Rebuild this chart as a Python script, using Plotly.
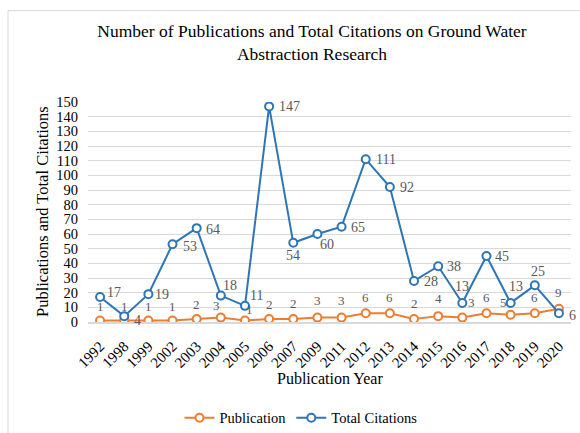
import plotly.graph_objects as go

# Publication years and the two series plotted against them
years = ["1992", "1998", "1999", "2002", "2003", "2004", "2005", "2006", "2007", "2009",
         "2011", "2012", "2013", "2014", "2015", "2016", "2017", "2018", "2019", "2020"]
publications = [1, 1, 1, 1, 2, 3, 1, 2, 2, 3, 3, 6, 6, 2, 4, 3, 6, 5, 6, 9]
citations = [17, 4, 19, 53, 64, 18, 11, 147, 54, 60, 65, 111, 92, 28, 38, 13, 45, 13, 25, 6]

y_ticks = list(range(0, 151, 10))

# Pixel offsets of each value label from its marker (right, down)
cit_label_shift = [(14, -5), (13, 4), (14, 0), (17, 2), (16, 1), (9, -10), (12, -10), (20, 0),
                   (0, 13), (10, 10), (16, 1), (20, 0), (17, 0), (17, 1), (16, 0), (0, -16),
                   (16, 0), (5, -16), (3, -14), (14, 2)]
pub_label_shift = [(0, -14), (0, -14), (0, -14), (0, -14), (0, -15), (-4, -12), (5, -11), (0, -15),
                   (0, -16), (0, -17), (0, -17), (0, -16), (0, -16), (0, -16), (0, -18), (9, -15),
                   (0, -16), (-7, -12), (0, -16), (0, -16)]

ORANGE = "#ED7D31"
BLUE = "#2E75B6"
LABEL_GREY = "#595959"
GRID = "#D9D9D9"
FONT = "Liberation Serif"

fig = go.Figure()
fig.add_trace(go.Scatter(
    x=years, y=publications, name="Publication", mode="lines+markers",
    line=dict(color=ORANGE, width=2),
    marker=dict(symbol="circle", size=8, color="white", line=dict(color=ORANGE, width=2)),
))
fig.add_trace(go.Scatter(
    x=years, y=citations, name="Total Citations", mode="lines+markers",
    line=dict(color=BLUE, width=2),
    marker=dict(symbol="circle", size=8, color="white", line=dict(color=BLUE, width=2)),
))

# Value labels; category positions are given by index
annotations = []
for i, (v, (dx, dy)) in enumerate(zip(publications, pub_label_shift)):
    annotations.append(dict(x=i, y=v, text=str(v), showarrow=False, xshift=dx, yshift=-dy,
                            font=dict(family=FONT, size=13, color=LABEL_GREY)))
for i, (v, (dx, dy)) in enumerate(zip(citations, cit_label_shift)):
    annotations.append(dict(x=i, y=v, text=str(v), showarrow=False, xshift=dx, yshift=-dy,
                            font=dict(family=FONT, size=14, color=LABEL_GREY)))

# Axis titles
annotations.append(dict(xref="paper", yref="paper", x=0.5, y=(322 - 379) / 220.5,
                        text="Publication Year", showarrow=False, yanchor="middle",
                        font=dict(family=FONT, size=16, color="#000000")))
annotations.append(dict(xref="paper", yref="paper", x=(42 - 88) / 483, y=0.5,
                        text="Publications and Total Citations", showarrow=False,
                        textangle=-90, xanchor="center", yanchor="middle",
                        font=dict(family=FONT, size=16.5, color="#000000")))

fig.update_layout(
    width=580, height=433,
    margin=dict(l=88, r=9, t=101.5, b=111, autoexpand=False),
    paper_bgcolor="white", plot_bgcolor="white",
    font=dict(family=FONT, color="#000000"),
    title=dict(
        text="Number of Publications and Total Citations on Ground Water<br>Abstraction Research",
        x=312 / 580, xanchor="center", y=1 - 37 / 433, yanchor="top",
        font=dict(family=FONT, size=17.5, color="#000000"),
    ),
    showlegend=True,
    legend=dict(orientation="h", x=(301 - 88) / 483, xanchor="center",
                y=(322 - 418) / 220.5, yanchor="middle",
                font=dict(family=FONT, size=14.5, color="#000000"),
                itemwidth=30, bgcolor="rgba(0,0,0,0)"),
    annotations=annotations,
    shapes=[dict(type="rect", xref="paper", yref="paper",
                 x0=(8 - 88) / 483, x1=(600 - 88) / 483,
                 y0=(322 - 450) / 220.5, y1=(322 - 10) / 220.5,
                 line=dict(color=GRID, width=1), layer="below")],
)

fig.update_xaxes(
    type="category", range=[-0.5, len(years) - 0.5], automargin=False,
    tickangle=-45, ticks="", showgrid=False,
    showline=True, linecolor=GRID, linewidth=1.5,
    ticklabelstandoff=8,
    tickfont=dict(family=FONT, size=15, color="#000000"),
)
fig.update_yaxes(
    range=[0, 150], tickvals=y_ticks, ticks="", automargin=False,
    showgrid=True, gridcolor=GRID, gridwidth=1,
    zeroline=False, showline=False,
    ticklabelstandoff=9,
    tickfont=dict(family=FONT, size=14.5, color="#000000"),
)

fig.write_html("out.html")
